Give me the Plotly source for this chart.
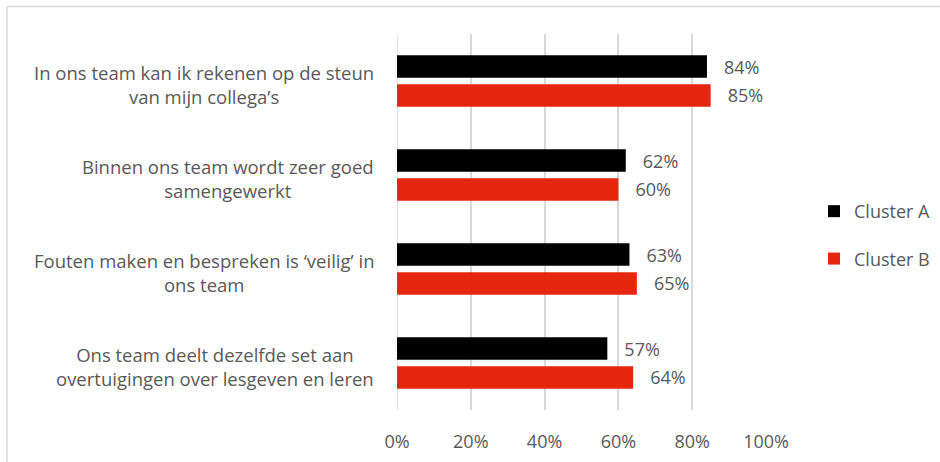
import plotly.graph_objects as go

categories = [
    "In ons team kan ik rekenen op de steun<br>van mijn collega’s",
    "Binnen ons team wordt zeer goed<br>samengewerkt",
    "Fouten maken en bespreken is ‘veilig’ in<br>ons team",
    "Ons team deelt dezelfde set aan<br>overtuigingen over lesgeven en leren",
]
cat_ids = ["c1", "c2", "c3", "c4"]
cluster_a = [0.84, 0.62, 0.63, 0.57]
cluster_b = [0.85, 0.60, 0.65, 0.64]
series_names = ["Cluster A", "Cluster B"]
series_colors = ["#000000", "#E6260E"]
tick_vals = [0, 0.2, 0.4, 0.6, 0.8, 1.0]
tick_text = ["0%", "20%", "40%", "60%", "80%", "100%"]

FONT = "Open Sans"
FS = 18
GREY = "#595959"
W, H = 940, 462
ML, MR, MT, MB = 397, 174, 34, 52

fig = go.Figure()
for name, vals, col in zip(series_names, [cluster_a, cluster_b], series_colors):
    fig.add_trace(go.Bar(
        y=cat_ids, x=vals, name=name, orientation="h",
        marker=dict(color=col, line=dict(width=0)),
        text=["\u00a0\u00a0\u00a0" + f"{round(v*100)}%" for v in vals],
        textposition="outside", constraintext="none", cliponaxis=False,
        textfont=dict(family=FONT, size=FS, color=GREY),
        legendgroup=name,
    ))

for cid, label in zip(cat_ids, categories):
    fig.add_annotation(
        x=0, xref="paper", y=cid, yref="y", xanchor="right", yanchor="middle",
        xshift=-21, yshift=-3, text=label, showarrow=False, align="center",
        font=dict(family=FONT, size=18.5, color=GREY),
    )

pw = W - ML - MR
ph = H - MT - MB
fig.add_shape(type="line", xref="paper", yref="paper",
              x0=(7 - ML) / pw, x1=(W + 10 - ML) / pw,
              y0=(H - MB - 6.5) / ph, y1=(H - MB - 6.5) / ph,
              line=dict(color="#d9d9d9", width=1.5))
fig.add_shape(type="line", xref="paper", yref="paper",
              x0=(7 - ML) / pw, x1=(7 - ML) / pw,
              y0=(H - MB - 6.5) / ph, y1=-(MB + 10) / ph,
              line=dict(color="#d9d9d9", width=1.5))

fig.update_layout(
    width=W, height=H,
    margin=dict(l=ML, r=MR, t=MT, b=MB, pad=0, autoexpand=False),
    paper_bgcolor="white", plot_bgcolor="white",
    barmode="group", bargap=0.385, bargroupgap=0.217,
    font=dict(family=FONT, size=FS, color=GREY),
    showlegend=True,
    legend=dict(x=(814 - ML) / pw, xanchor="left", y=0.4655, yanchor="middle",
                tracegroupgap=21, font=dict(family=FONT, size=FS, color=GREY),
                bgcolor="rgba(0,0,0,0)"),
    xaxis=dict(range=[0, 1], tickvals=tick_vals, ticktext=tick_text,
               showgrid=True, gridcolor="#d9d9d9", gridwidth=1.5,
               zeroline=False, showline=False, ticks="",
               ticklabelstandoff=19,
               tickfont=dict(family=FONT, size=FS, color=GREY)),
    yaxis=dict(categoryorder="array", categoryarray=cat_ids, autorange="reversed",
               showticklabels=False, showgrid=False, zeroline=False,
               showline=False, ticks=""),
)
fig.add_shape(type="line", xref="x", yref="paper", x0=0, x1=0, y0=0, y1=1,
              line=dict(color="#d9d9d9", width=1.5), layer="below")

fig.write_html("out.html")
